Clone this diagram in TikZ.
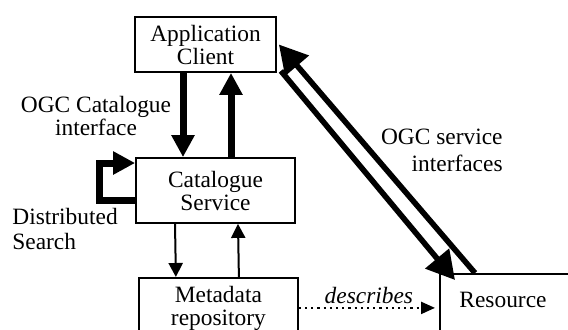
\documentclass[tikz,border=0pt]{standalone}
\usepackage{fontspec}
\setmainfont{Liberation Serif}
\usetikzlibrary{arrows.meta}
\begin{document}
\begin{tikzpicture}[x=0.5pt,y=-0.5pt,
  font=\fontsize{11.7}{11.5}\selectfont,
  box/.style={draw,line width=0.9pt,inner sep=0pt,align=center},
  fat/.style={line width=3.5pt,-{Triangle[width=11pt,length=11pt]}},
  diag/.style={line width=2.8pt,-{Triangle[width=15pt,length=14pt]}},
  thin/.style={line width=1pt,-{Triangle[width=7pt,length=7pt]}},
  dots/.style={line width=1.1pt,dotted,-{Triangle[width=6pt,length=7pt]}}]
  \useasboundingbox (0,0) rectangle (568,329);
  % boxes
  \node[box,minimum width=70.5pt,minimum height=27.5pt] (app) at (205.5,44.5) {Application\\Client};
  \node[box,minimum width=79.5pt,minimum height=32.5pt] (cat) at (215.5,190.5) {Catalogue\\Service};
  \node[box,anchor=north west,minimum width=79.5pt,minimum height=30pt] (meta) at (138,277) {Metadata\\repository};
  \node[box,anchor=north west,minimum width=100pt,minimum height=50pt] (res) at (439,273) {};
  \node (restxt) at (503,300) {Resource};

  % client <-> catalogue
  \draw[fat] ([xshift=-11.25pt]app.south) -- ([xshift=-16.25pt]cat.north);
  \draw[fat] ([xshift=7.75pt]cat.north) -- ([xshift=12.75pt]app.south);
  \node[align=center] (ogccat) at (96,116) {OGC Catalogue\\interface};

  % distributed search loop
  \draw[fat] ([yshift=-4.75pt]cat.west) -- ++(-18pt,0) |- ([yshift=13.75pt]cat.west);
  \node[anchor=west,align=left,inner sep=0pt,font=\fontsize{11.7}{12.5}\selectfont] (dist) at (12,229) {Distributed\\Search};

  % catalogue <-> metadata
  \draw[thin] ([xshift=-20.25pt]cat.south) -- ([xshift=-21.25pt]meta.north);
  \draw[thin] ([xshift=10.25pt]meta.north) -- ([xshift=11.25pt]cat.south);

  % service interfaces
  \draw[diag] ([shift={(2pt,1pt)}]app.south east) -- ([shift={(8pt,-3.5pt)}]res.north west);
  \draw[diag] ([xshift=18pt]res.north west) -- ([xshift=1pt]app.east);
  \node[anchor=east,align=right,inner sep=0pt,font=\fontsize{11.7}{13.5}\selectfont] (ogcsrv) at (503,150) {OGC service\\interfaces};

  % describes
  \draw[dots,shorten >=2pt] (meta.east) -- (meta.east -| res.west)
    node[midway,above,inner sep=1.5pt,font=\fontsize{11.7}{11.5}\itshape] (desc) {describes};
\end{tikzpicture}
\end{document}
